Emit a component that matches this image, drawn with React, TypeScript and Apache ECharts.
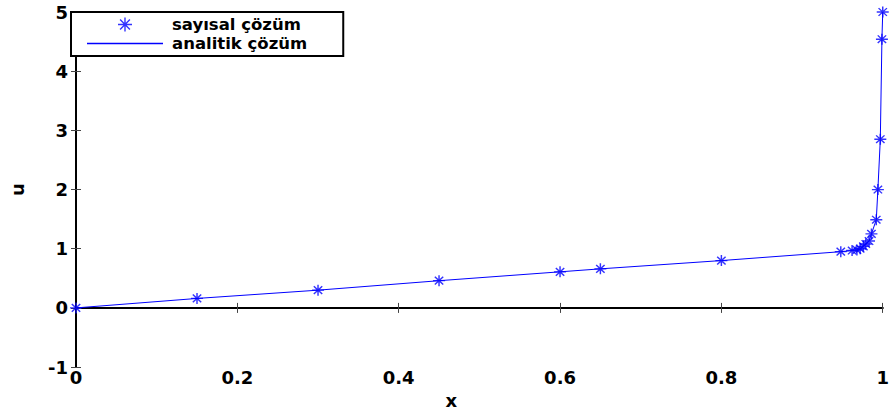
import React, { useEffect, useRef } from "react";
import * as echarts from "echarts";

const xValues = [0, 0.15, 0.3, 0.45, 0.6, 0.65, 0.8, 0.948, 0.962, 0.968, 0.972, 0.976, 0.979, 0.983, 0.986, 0.992, 0.994, 0.997, 0.999, 1.0];
const numericU = [0, 0.16, 0.3, 0.46, 0.61, 0.66, 0.8, 0.95, 0.97, 0.98, 1.0, 1.04, 1.08, 1.13, 1.25, 1.49, 2.0, 2.85, 4.54, 5.0];
const analyticU = [0, 0.16, 0.3, 0.46, 0.61, 0.66, 0.8, 0.95, 0.97, 0.98, 1.0, 1.04, 1.08, 1.13, 1.25, 1.49, 2.0, 2.85, 4.54, 5.0];
const seriesNames = ["sayısal çözüm", "analitik çözüm"];
const xAxisName = "x";
const yAxisName = "u";

const STAR = "path://M0 5 L10 5 M5 0 L5 10 M1.5 1.5 L8.5 8.5 M1.5 8.5 L8.5 1.5";
const LINE_ICON = "path://M0 0 L76 0 L76 1.3 L0 1.3 Z";
const BLUE = "#0000ff";
const FONT = "DejaVu Sans";

export default function App() {
  const ref = useRef<HTMLDivElement>(null);
  useEffect(() => {
    if (!ref.current) return;
    const chart = echarts.init(ref.current, undefined, { renderer: "svg" });
    const labelStyle = { color: "#000", fontFamily: FONT, fontWeight: "bold" as const, fontSize: 18 };
    const tick = { show: true, inside: true, length: 5, lineStyle: { color: "#444", width: 1 } };
    const axisLine = { show: true, lineStyle: { color: "#000", width: 2 } };
    chart.setOption({
      animation: false,
      backgroundColor: "#fff",
      grid: { left: 73, right: 3, top: 12, bottom: 40 },
      legend: {
        left: 71,
        top: 12,
        orient: "vertical",
        itemWidth: 76,
        itemHeight: 14,
        itemGap: 2,
        padding: [4, 36, 4, 16],
        borderColor: "#000",
        borderWidth: 2,
        backgroundColor: "#fff",
        textStyle: {
          color: "#000",
          fontFamily: FONT,
          fontWeight: "bold",
          fontSize: 16.5,
          lineHeight: 17,
          padding: [0, 0, 0, 4],
        },
        data: [
          { name: seriesNames[0], icon: STAR, itemStyle: { color: "rgba(0,0,0,0)", borderColor: BLUE, borderWidth: 1.4 } },
          { name: seriesNames[1], icon: LINE_ICON, itemStyle: { color: BLUE, borderWidth: 0 } },
        ],
      },
      xAxis: [
        {
          type: "value",
          min: 0,
          max: 1,
          interval: 0.2,
          position: "bottom",
          name: xAxisName,
          nameLocation: "middle",
          nameGap: 22,
          nameTextStyle: { ...labelStyle, padding: [0, 56, 0, 0] },
          axisLine,
          axisTick: tick,
          axisLabel: { ...labelStyle, margin: 1 },
          splitLine: { show: false },
        },
        {
          type: "value",
          min: 0,
          max: 1,
          interval: 0.2,
          position: "top",
          axisLine: { show: true, lineStyle: { color: "#000", width: 1.5 } },
          axisTick: tick,
          axisLabel: { show: false },
          splitLine: { show: false },
        },
      ],
      yAxis: [
        {
          type: "value",
          min: -1,
          max: 5,
          interval: 1,
          position: "left",
          name: yAxisName,
          nameLocation: "middle",
          nameGap: 50,
          nameRotate: 90,
          nameTextStyle: labelStyle,
          axisLine,
          axisTick: tick,
          axisLabel: { ...labelStyle, margin: 8 },
          splitLine: { show: false },
        },
        {
          type: "value",
          min: -1,
          max: 5,
          interval: 1,
          position: "right",
          axisLine,
          axisTick: tick,
          axisLabel: { show: false },
          splitLine: { show: false },
        },
      ],
      series: [
        {
          name: seriesNames[1],
          type: "line",
          symbol: "none",
          data: xValues.map((x, i) => [x, analyticU[i]]),
          lineStyle: { color: BLUE, width: 1 },
          itemStyle: { color: BLUE },
          z: 2,
        },
        {
          name: seriesNames[0],
          type: "scatter",
          symbol: STAR,
          symbolSize: [12, 11],
          data: xValues.map((x, i) => [x, numericU[i]]),
          itemStyle: { color: "rgba(0,0,0,0)", borderColor: BLUE, borderWidth: 1.4 },
          z: 3,
        },
      ],
    });
    return () => chart.dispose();
  }, []);
  return (
    <div
      ref={ref}
      style={{ position: "absolute", left: 0, top: 0, width: 892, height: 414 }}
    />
  );
}
